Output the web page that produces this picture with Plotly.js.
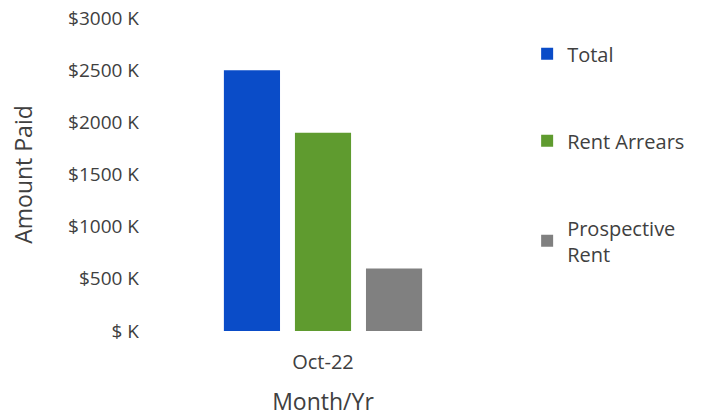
<!DOCTYPE html>
<html><head><meta charset="utf-8">
<script src="https://cdn.plot.ly/plotly-3.0.1.min.js"></script>
<style>html,body{margin:0;padding:0;background:#fff}#c{width:709px;height:417px}</style>
</head><body><div id="c"></div>
<script>
const category = ["Oct-22"];
const seriesNames = ["Total", "Rent Arrears", "Prospective<br>Rent"];
const totalK = [2500];
const rentArrearsK = [1900];
const prospectiveRentK = [600];
const yTickVals = [0, 500, 1000, 1500, 2000, 2500, 3000];
const yTickText = ["$ K", "$500 K", "$1000 K", "$1500 K", "$2000 K", "$2500 K", "$3000 K"];

const colors = ["#0a4cc8", "#5f9b2f", "#808080"];
const values = [totalK, rentArrearsK, prospectiveRentK];
const traces = values.map((v, i) => ({
  type: "bar", x: category, y: v, name: seriesNames[i],
  marker: {color: colors[i]}, legendgroup: "g" + i, hoverinfo: "none"
}));
const font = "'Open Sans', Lato, sans-serif";
Plotly.newPlot("c", traces, {
  width: 709, height: 417,
  margin: {l: 150, r: 213, t: 18, b: 86},
  paper_bgcolor: "#fff", plot_bgcolor: "#fff",
  font: {family: font, size: 19, color: "#404040"},
  barmode: "group", bargap: 0.384, bargroupgap: 0.21,
  showlegend: true,
  legend: {x: 1.09, xanchor: "left", y: 0.948, yanchor: "top", font: {size: 20, color: "#404040"}, tracegroupgap: 58, bgcolor: "rgba(0,0,0,0)"},
  xaxis: {showgrid: false, zeroline: false, showline: false, ticks: "", tickfont: {size: 20}, ticklabelstandoff: 17,
    title: {text: "Month/Yr", font: {size: 23}, standoff: 25}},
  yaxis: {range: [0, 3000], tickvals: yTickVals, ticktext: yTickText, showgrid: false, zeroline: false,
    showline: false, ticks: "", tickfont: {size: 19}, ticklabelstandoff: 10,
    title: {text: "Amount Paid", font: {size: 23}, standoff: 29}}
}, {staticPlot: true});
</script></body></html>
